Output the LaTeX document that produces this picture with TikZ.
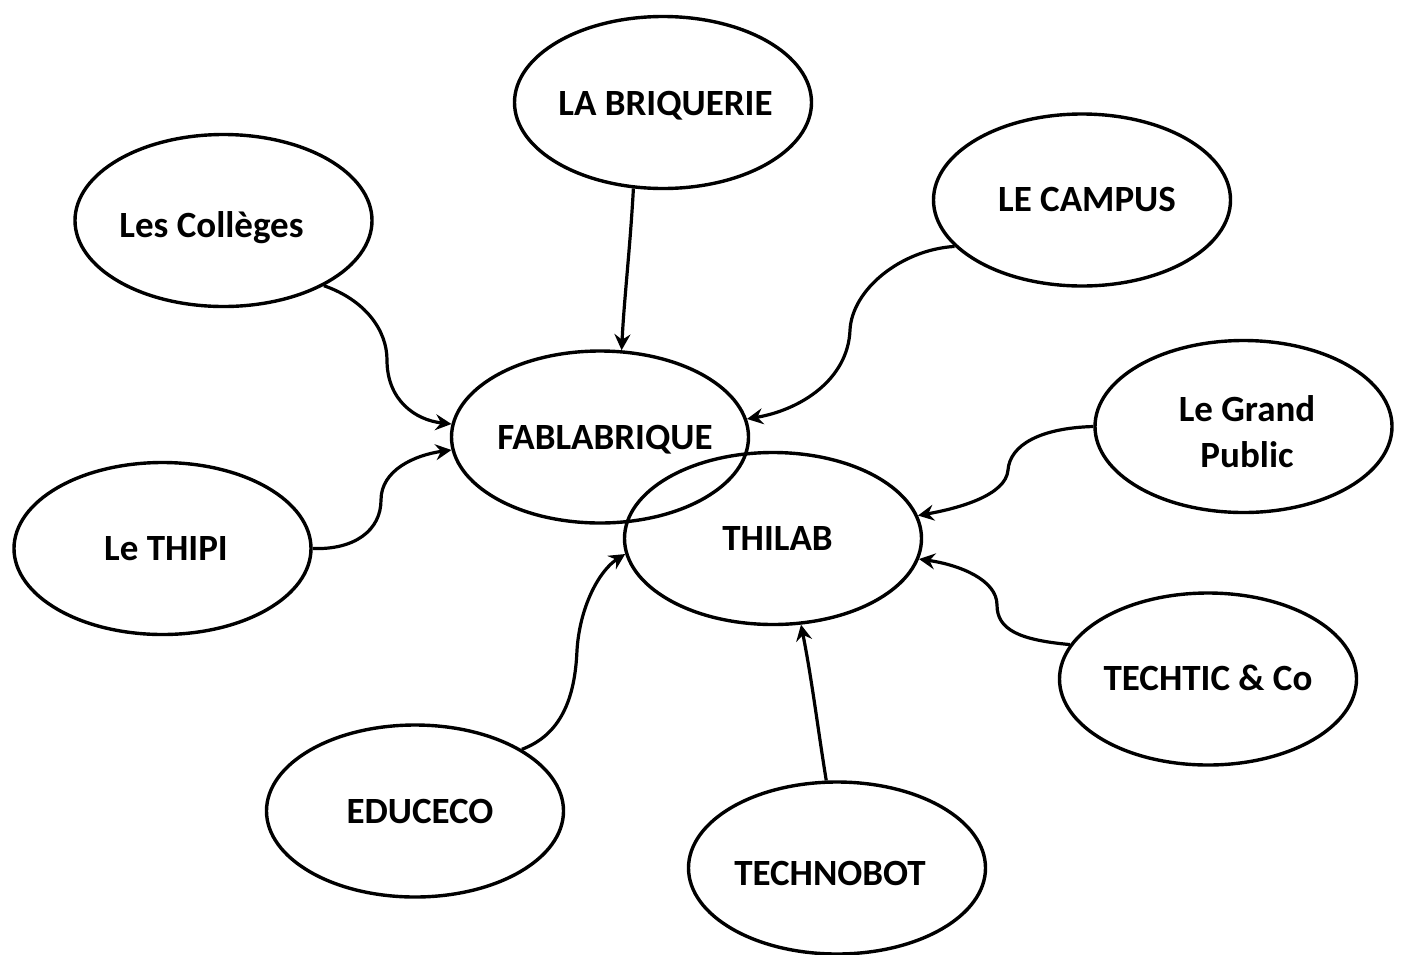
\documentclass[tikz,border=0pt]{standalone}
\usepackage{fontspec}
\setmainfont{Carlito}
\usetikzlibrary{shapes.geometric,arrows.meta}
\begin{document}
\begin{tikzpicture}[x=1pt,y=-1pt,
  bubble/.style={ellipse,draw,line width=3.4pt,minimum width=297pt,minimum height=172pt,inner sep=0pt},
  lbl/.style={anchor=base,font=\bfseries\fontsize{37}{46}\selectfont,align=center,inner sep=0pt},
  conn/.style={line width=3.2pt,-{Stealth[length=16pt,width=16pt,inset=5.5pt]}}]
\useasboundingbox (0,0) rectangle (1402,954);
% ellipses
\node[bubble] (briq) at (663,102.5) {};
\node[bubble] (coll) at (223.5,220.5) {};
\node[bubble] (campus) at (1082,200) {};
\node[bubble] (fab) at (600,437) {};
\node[bubble] (thilab) at (773,538.5) {};
\node[bubble] (gp) at (1243.5,426.5) {};
\node[bubble] (thipi) at (162.5,548.5) {};
\node[bubble] (techtic) at (1208,679) {};
\node[bubble] (edu) at (415,811) {};
\node[bubble] (tb) at (837,868) {};
% labels
\node[lbl] (tbriq) at (665.5,115) {LA BRIQUERIE};
\node[lbl] (tcoll) at (211.5,237) {Les Collèges};
\node[lbl] (tcampus) at (1087,211) {LE CAMPUS};
\node[lbl] (tfab) at (605,449) {FABLABRIQUE};
\node[lbl] (tthilab) at (777.5,550) {THILAB};
\node[lbl,anchor=center] (tgp) at (1247,432) {Le Grand\\Public};
\node[lbl] (tthipi) at (166,560) {Le THIPI};
\node[lbl] (ttechtic) at (1208,690) {TECHTIC \& Co};
\node[lbl] (tedu) at (420,823) {EDUCECO};
\node[lbl] (ttb) at (830,885) {TECHNOBOT};
% connectors
\draw[conn] (coll.-33) .. controls (365,300) and (387,330) .. (387,360)
  .. controls (387,400) and (415,420) .. (fab.175);
\draw[conn] (thipi.0) .. controls (355,550) and (381,530) .. (381,500)
  .. controls (381,470) and (415,455) .. (fab.185.5);
\draw[conn] (briq.251) .. controls (630,250) and (624,300) .. (fab.76.5);
\draw[conn] (campus.200) .. controls (900,250) and (852,290) .. (850,330)
  .. controls (848,380) and (800,410) .. (fab.7.7);
\draw[conn] (gp.180) .. controls (1040,428) and (1010,445) .. (1008,470)
  .. controls (1006,495) and (960,508) .. (thilab.9);
\draw[conn] (techtic.166) .. controls (1020,640) and (997,630) .. (997,605)
  .. controls (997,580) and (960,565) .. (thilab.-8);
\draw[conn] (edu.30) .. controls (560,735) and (575,700) .. (577,650)
  .. controls (580,605) and (600,570) .. (thilab.186.3);
\draw[conn] (tb.97) .. controls (818,730) and (812,680) .. (thilab.-72);
\end{tikzpicture}
\end{document}
